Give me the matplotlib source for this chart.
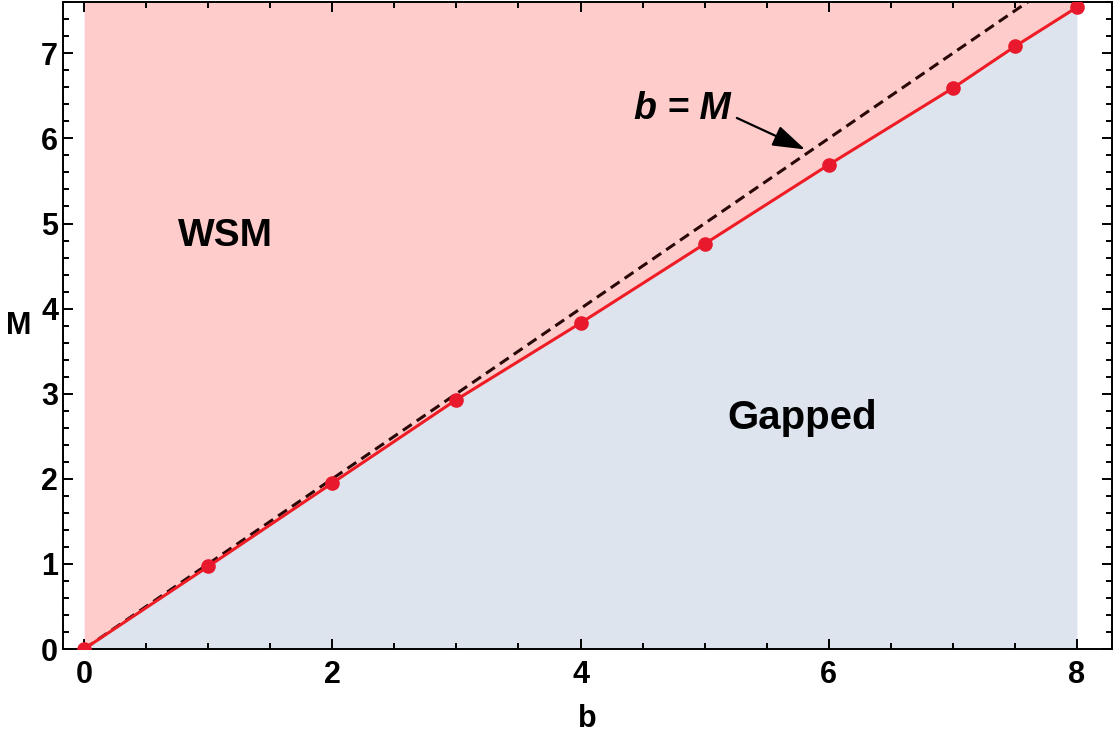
import numpy as np
import matplotlib
matplotlib.use("Agg")
import matplotlib.pyplot as plt
from matplotlib.ticker import MultipleLocator

plt.rcParams['font.family'] = ['Liberation Sans', 'DejaVu Sans']
plt.rcParams['font.weight'] = 'bold'

# boundary points
b_vals = [0, 1, 2, 3, 4, 5, 6, 7, 7.5, 8]
M_vals = [0, 0.97, 1.95, 2.93, 3.83, 4.76, 5.69, 6.59, 7.08, 7.54]
line_b = [0, 8.3]

pink = '#FFCCCC'
blue = '#DEE4EE'
red = '#EE1C25'

fig = plt.figure(figsize=(11.15, 7.42), dpi=100)
ax = fig.add_axes([0.0565, 0.1253, 0.9405, 0.8717])

ymax = 7.6
ax.fill_between(b_vals, M_vals, ymax, color=pink, lw=0, zorder=0)
ax.fill_between(b_vals, 0, M_vals, color=blue, lw=0, zorder=0)

ax.plot(line_b, line_b, ls=(0, (3.5, 2.0)), color='#2a0808', lw=2.2, zorder=2)
ax.plot(b_vals, M_vals, '-', color=red, lw=2.2, zorder=3)
ax.plot(b_vals, M_vals, 'o', color='#E8192C', ms=9.5, zorder=4)

ax.text(1.14, 4.85, 'WSM', fontsize=28, fontweight='bold', ha='center', va='center')
ax.text(5.79, 2.72, 'Gapped', fontsize=29, fontweight='bold', ha='center', va='center')
ax.text(4.82, 6.34, 'b = M', fontsize=27, fontweight='bold', fontstyle='italic',
        ha='center', va='center')
ax.annotate('', xy=(5.81, 5.87), xytext=(5.26, 6.24),
            arrowprops=dict(arrowstyle='-|>,head_length=2.0,head_width=0.65', color='black', lw=1.6,
                            shrinkA=0, shrinkB=0))

ax.set_xlim(-0.17, 8.28)
ax.set_ylim(0, ymax)
ax.xaxis.set_major_locator(MultipleLocator(2))
ax.xaxis.set_minor_locator(MultipleLocator(0.5))
ax.yaxis.set_major_locator(MultipleLocator(1))
ax.yaxis.set_minor_locator(MultipleLocator(0.2))
ax.tick_params(which='both', direction='in', top=True, right=True, width=1.4, labelsize=22)
ax.tick_params(which='major', length=7)
ax.tick_params(which='minor', length=4)
ax.tick_params(axis='x', pad=8)
for lab in ax.get_xticklabels() + ax.get_yticklabels():
    lab.set_fontweight('bold')
for s in ax.spines.values():
    s.set_linewidth(1.4)

ax.set_xlabel('b', fontsize=22, fontweight='bold', labelpad=10)
ax.set_ylabel('M', fontsize=22, fontweight='bold', rotation=0, labelpad=16, va='center')

fig.savefig('out.png', dpi=100)
